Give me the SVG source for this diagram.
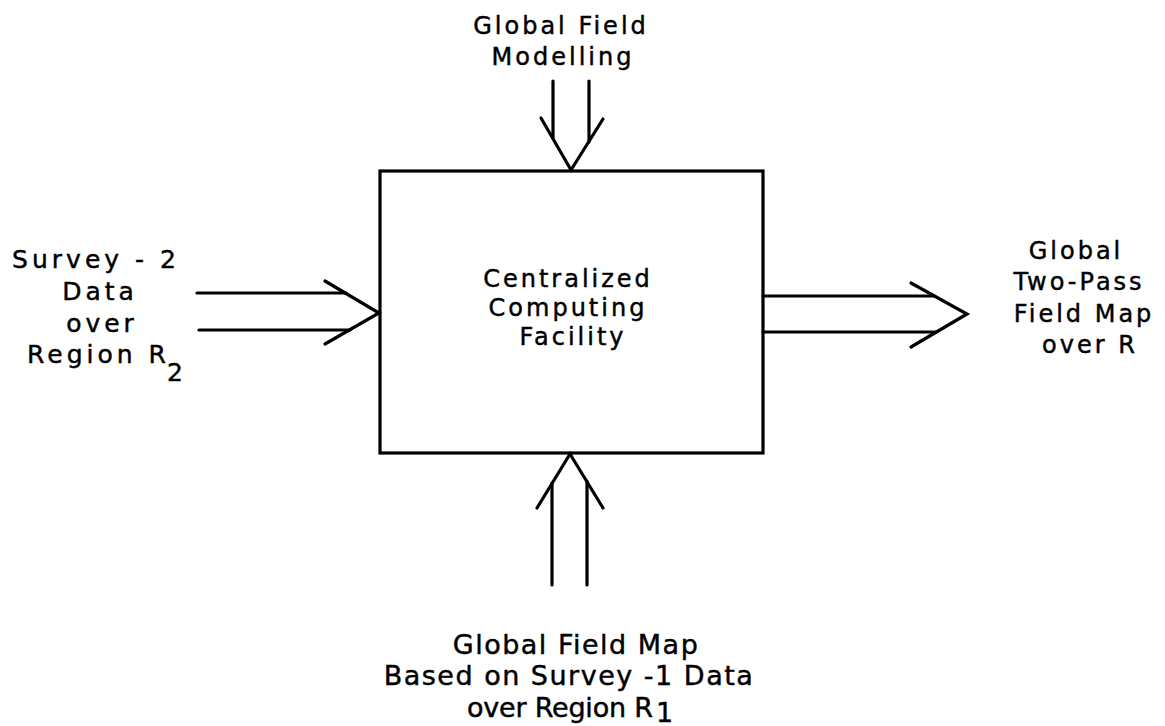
<svg xmlns="http://www.w3.org/2000/svg" width="1165" height="726" viewBox="0 0 1165 726">
  <style>
    .ln { fill: none; stroke: #000; stroke-width: 3.2; stroke-linecap: round; stroke-linejoin: miter; }
    .t { font-family: "DejaVu Sans", "Liberation Sans", sans-serif; font-size: 24px; letter-spacing: 3px; fill: #000; stroke: #000; stroke-width: 0.45; text-anchor: middle; }
    .tl { font-size: 25px; letter-spacing: 4px; }
    .tb { font-size: 27px; letter-spacing: 1.5px; }
    .st { text-anchor: start; }
  </style>
  <rect width="1165" height="726" fill="#fff"/>

  <!-- central facility -->
  <g id="facility">
    <rect class="ln" x="380" y="171" width="383" height="282"/>
    <text class="t" x="568" y="287">Centralized</text>
    <text class="t" x="568" y="316">Computing</text>
    <text class="t" x="573" y="345">Facility</text>
  </g>

  <!-- inputs and outputs -->
  <g id="modelling">
    <text class="t" x="561" y="34">Global Field</text>
    <text class="t" x="563" y="65">Modelling</text>
  </g>

  <g id="survey2">
    <text class="t tl" x="96" y="268">Survey - 2</text>
    <text class="t tl" x="100" y="300">Data</text>
    <text class="t tl" x="102" y="332">over</text>
    <text class="t tl st" x="27" y="363">Region R</text>
    <text class="t tl st" x="167" y="381">2</text>
  </g>

  <g id="twopass">
    <text class="t" x="1076" y="259">Global</text>
    <text class="t" x="1079" y="290">Two-Pass</text>
    <text class="t" x="1084" y="322">Field Map</text>
    <text class="t" x="1090" y="353">over R</text>
  </g>

  <g id="survey1map">
    <text class="t tb" x="576" y="654">Global Field Map</text>
    <text class="t tb" x="569" y="685">Based on Survey -1 Data</text>
    <text class="t tb st" x="467" y="717" style="letter-spacing:0" textLength="186" lengthAdjust="spacing">over Region R</text>
    <text class="t tb st" x="656" y="722">1</text>
  </g>

  <!-- double-line flow arrows -->
  <g id="connectors">
    <!-- from global field modelling (down into box) -->
    <line class="ln" x1="553" y1="81" x2="553" y2="138"/>
    <line class="ln" x1="589" y1="81" x2="589" y2="142"/>
    <polyline class="ln" points="541,118 571,170 603,119"/>

    <!-- from survey-2 data (into left side) -->
    <line class="ln" x1="197" y1="293" x2="346" y2="293"/>
    <line class="ln" x1="199" y1="330" x2="350" y2="330"/>
    <polyline class="ln" points="325,281 379,313 325,344"/>

    <!-- two-pass map output (right side) -->
    <line class="ln" x1="763" y1="296" x2="934" y2="296"/>
    <line class="ln" x1="763" y1="332" x2="936" y2="332"/>
    <polyline class="ln" points="911,283 967,314 911,347"/>

    <!-- from survey-1 map (up into box) -->
    <line class="ln" x1="552" y1="585" x2="552" y2="483"/>
    <line class="ln" x1="587" y1="585" x2="587" y2="481"/>
    <polyline class="ln" points="537,508 570,454 603,508"/>
  </g>
</svg>
